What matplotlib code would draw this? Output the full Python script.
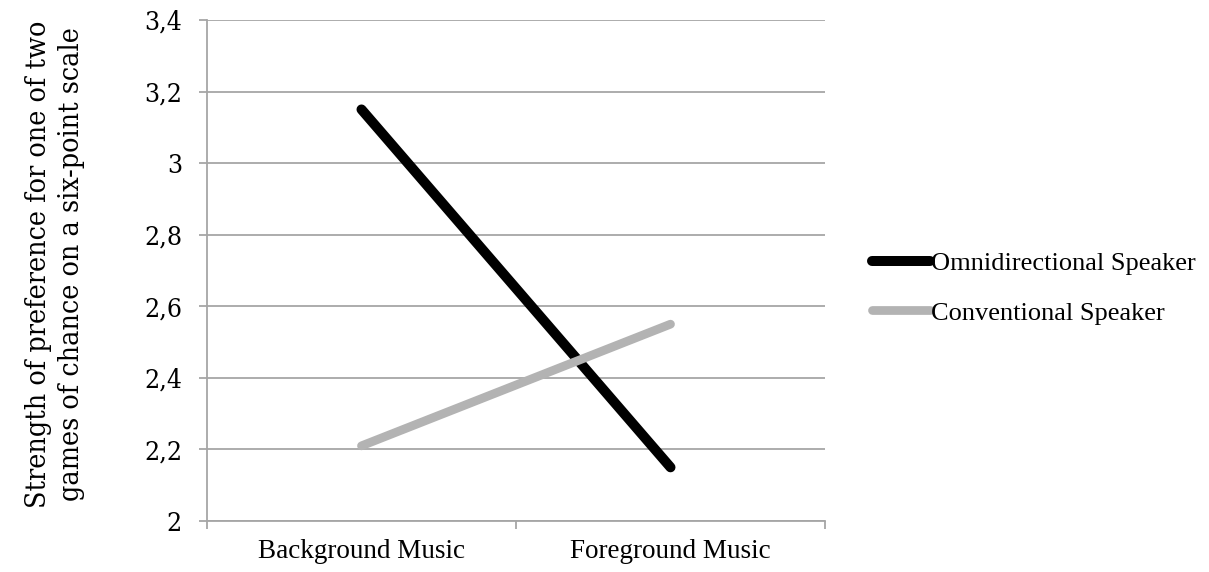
import matplotlib
matplotlib.use("Agg")
import matplotlib.pyplot as plt
from matplotlib.ticker import FixedLocator, FuncFormatter
from matplotlib import font_manager as fm

categories = ["Background Music", "Foreground Music"]
omni = [3.15, 2.15]
conv = [2.21, 2.55]
series_names = ["Omnidirectional Speaker", "Conventional Speaker"]
yticks = [2.0, 2.2, 2.4, 2.6, 2.8, 3.0, 3.2, 3.4]
ylabel = "Strength of preference for one of two\ngames of chance on a six-point scale"

W, H = 1209, 572
fig = plt.figure(figsize=(W / 100, H / 100), dpi=100)
ax = fig.add_axes([207 / W, 1 - 521 / H, (825 - 207) / W, (521 - 20) / H])

grid_c = "#a6a6a6"
x = list(range(len(categories)))
l1, = ax.plot(x, omni, color="#000000", lw=7.2, solid_capstyle="round", zorder=3)
l2, = ax.plot(x, conv, color="#b3b3b3", lw=6.3, solid_capstyle="round", zorder=3)

ax.set_xlim(-0.5, len(categories) - 0.5)
ax.set_ylim(2.0, 3.4)
ax.set_yticks(yticks)
ax.yaxis.set_major_formatter(FuncFormatter(lambda v, p: ("%g" % round(v, 1)).replace(".", ",")))
ax.yaxis.grid(True, color=grid_c, lw=1.3)
ax.set_axisbelow(True)

ax.xaxis.set_major_locator(FixedLocator([-0.5, 0.5, 1.5]))
ax.xaxis.set_major_formatter(FuncFormatter(lambda v, p: ""))
ax.set_xticks(x, labels=categories, minor=True)
ax.tick_params(axis="x", which="minor", length=0, pad=13,
               labelsize=19.5, labelfontfamily="Liberation Serif")
ax.tick_params(axis="x", which="major", length=6, color=grid_c, width=1.3)
ax.tick_params(axis="y", length=6, color=grid_c, width=1.3, pad=12)

tick_font = fm.FontProperties(family="DejaVu Serif", stretch="condensed", size=19)
for lab in ax.get_yticklabels():
    lab.set_fontproperties(tick_font)

for s in ["top", "right"]:
    ax.spines[s].set_visible(False)
for s in ["left", "bottom"]:
    ax.spines[s].set_color(grid_c)
    ax.spines[s].set_linewidth(1.3)

lab_font = fm.FontProperties(family="DejaVu Serif", stretch="condensed", size=20.5)
fig.text(55 / W, 1 - 264 / H, ylabel, rotation=90, ha="center", va="center",
         multialignment="center", fontproperties=lab_font, linespacing=1.25)

leg = fig.legend([l1, l2], series_names, loc="center left",
                 bbox_to_anchor=(872 / W, 1 - 288 / H), frameon=False,
                 borderpad=0, borderaxespad=0,
                 prop={"family": "Liberation Serif", "size": 19},
                 handlelength=2.2, handletextpad=0.05, labelspacing=1.0)

fig.savefig("out.png", dpi=100)
